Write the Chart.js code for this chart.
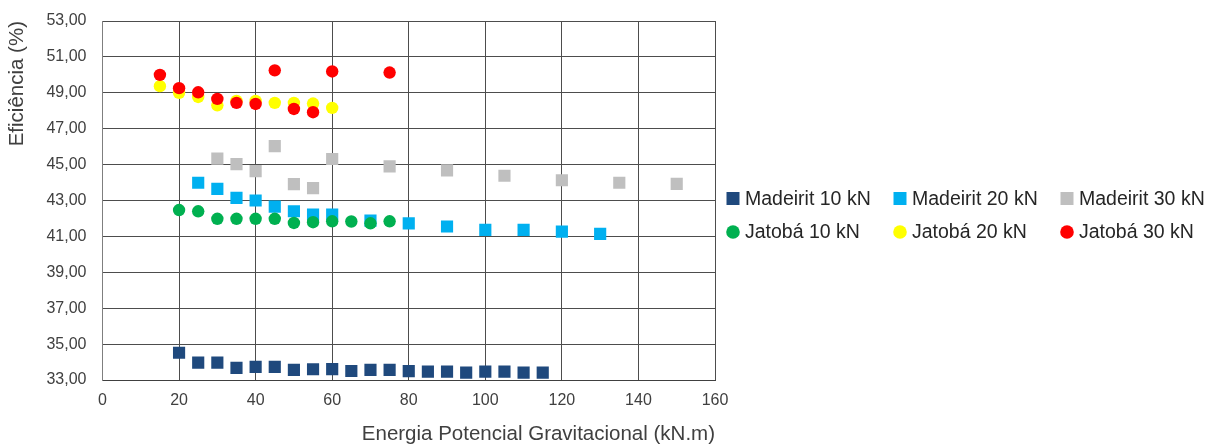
<!DOCTYPE html>
<html>
<head>
<meta charset="utf-8">
<script src="https://cdn.jsdelivr.net/npm/chart.js@4/dist/chart.umd.min.js"></script>
<style>
  html, body { margin: 0; padding: 0; background: #ffffff; }
  #wrap { position: relative; width: 1210px; height: 446px; }
</style>
</head>
<body>
<div id="wrap"><canvas id="c" width="1210" height="446"></canvas></div>
<script>
// Series labels
const seriesNames = ['Madeirit 10 kN', 'Madeirit 20 kN', 'Madeirit 30 kN',
                     'Jatobá 10 kN', 'Jatobá 20 kN', 'Jatobá 30 kN'];

// Energia potencial (kN.m) and eficiência (%) for each series
const madeirit10X = [20, 25, 30, 35, 40, 45, 50, 55, 60, 65, 70, 75, 80, 85, 90, 95, 100, 105, 110, 115];
const madeirit10Y = [34.52, 33.97, 33.97, 33.68, 33.73, 33.73, 33.56, 33.60, 33.61, 33.50,
                     33.56, 33.56, 33.49, 33.47, 33.47, 33.41, 33.47, 33.47, 33.41, 33.41];

const madeirit20X = [25, 30, 35, 40, 45, 50, 55, 60, 70, 80, 90, 100, 110, 120, 130];
const madeirit20Y = [43.99, 43.65, 43.15, 43.00, 42.66, 42.40, 42.22, 42.22, 41.88, 41.73,
                     41.55, 41.36, 41.36, 41.27, 41.14];

const madeirit30X = [30, 35, 40, 45, 50, 55, 60, 75, 90, 105, 120, 135, 150];
const madeirit30Y = [45.33, 45.03, 44.64, 46.03, 43.91, 43.69, 45.31, 44.90, 44.68, 44.38,
                     44.13, 43.99, 43.93];

const jatoba10X = [20, 25, 30, 35, 40, 45, 50, 55, 60, 65, 70, 75];
const jatoba10Y = [42.47, 42.40, 41.98, 41.98, 41.98, 41.98, 41.75, 41.79, 41.84, 41.83, 41.73, 41.84];

const jatoba20X = [15, 20, 25, 30, 35, 40, 45, 50, 55, 60];
const jatoba20Y = [49.37, 49.00, 48.77, 48.30, 48.55, 48.55, 48.44, 48.44, 48.40, 48.16];

const jatoba30X = [15, 20, 25, 30, 35, 40, 45, 50, 55, 60, 75];
const jatoba30Y = [50.00, 49.26, 49.03, 48.66, 48.44, 48.38, 50.25, 48.10, 47.92, 50.19, 50.13];

// Axis ticks
const xTicks = [0, 20, 40, 60, 80, 100, 120, 140, 160];
const yTicks = [33, 35, 37, 39, 41, 43, 45, 47, 49, 51, 53];

const FONT = "'Liberation Sans', Arial, sans-serif";

function pairs(xs, ys) {
  return xs.map((x, i) => ({ x: x, y: ys[i] }));
}

function series(i, xs, ys, color, style, radius, order) {
  return {
    label: seriesNames[i],
    data: pairs(xs, ys),
    pointStyle: style,
    pointRadius: radius,
    pointBackgroundColor: color,
    backgroundColor: color,
    pointBorderWidth: 0,
    borderWidth: 0,
    showLine: false,
    order: order
  };
}

// Legend laid out as a 2 x 3 grid to the right of the plot
const gridLegend = {
  id: 'gridLegend',
  afterDraw(chart, args, opts) {
    const ctx = chart.ctx;
    ctx.save();
    ctx.font = opts.font;
    ctx.textBaseline = 'middle';
    ctx.textAlign = 'left';
    chart.data.datasets.forEach((ds, i) => {
      const cx = opts.columns[i % 3];
      const cy = opts.rows[Math.floor(i / 3)];
      ctx.fillStyle = ds.backgroundColor;
      ctx.beginPath();
      if (ds.pointStyle === 'rect') {
        ctx.rect(cx - opts.box / 2, cy - opts.box / 2, opts.box, opts.box);
      } else {
        ctx.arc(cx, cy, opts.dot, 0, Math.PI * 2);
      }
      ctx.fill();
      ctx.fillStyle = opts.color;
      ctx.fillText(ds.label, cx + opts.gap, cy + 1);
    });
    ctx.restore();
  }
};

const chart = new Chart(document.getElementById('c'), {
  type: 'scatter',
  data: {
    datasets: [
      series(0, madeirit10X, madeirit10Y, '#1F497D', 'rect', 8.6, 6),
      series(1, madeirit20X, madeirit20Y, '#00B0F0', 'rect', 8.6, 5),
      series(2, madeirit30X, madeirit30Y, '#BFBFBF', 'rect', 8.6, 4),
      series(3, jatoba10X, jatoba10Y, '#00B050', 'circle', 6.2, 3),
      series(4, jatoba20X, jatoba20Y, '#FFFF00', 'circle', 6.2, 2),
      series(5, jatoba30X, jatoba30Y, '#FF0000', 'circle', 6.2, 1)
    ]
  },
  options: {
    responsive: false,
    animation: false,
    events: [],
    devicePixelRatio: 1,
    layout: { padding: { top: 21, right: 495, left: 0, bottom: 0 } },
    plugins: {
      legend: { display: false },
      tooltip: { enabled: false },
      gridLegend: {
        font: "19.5px " + FONT,
        color: '#262626',
        columns: [733, 900, 1067],
        rows: [198.5, 232],
        box: 13,
        dot: 6.8,
        gap: 12
      }
    },
    scales: {
      x: {
        type: 'linear',
        min: 0,
        max: 160,
        afterBuildTicks: (s) => { s.ticks = xTicks.map(v => ({ value: v })); },
        afterFit: (s) => { s.height = 66; },
        grid: { color: '#4d4d4d', lineWidth: 1, drawTicks: false },
        border: { color: '#404040', width: 1 },
        ticks: { color: '#404040', font: { family: FONT, size: 16 }, padding: 11 },
        title: {
          display: true,
          text: 'Energia Potencial Gravitacional (kN.m)',
          align: 'end',
          color: '#404040',
          font: { family: FONT, size: 20.5, lineHeight: 1.1 },
          padding: { top: 0, bottom: 0 }
        }
      },
      y: {
        type: 'linear',
        min: 33,
        max: 53,
        afterBuildTicks: (s) => { s.ticks = yTicks.map(v => ({ value: v })); },
        afterFit: (s) => {
          s.width = 102.5;
          // the top/bottom tick labels fit inside the layout padding
          s.paddingTop = 0;
          s.paddingBottom = 0;
        },
        grid: { color: '#4d4d4d', lineWidth: 1, drawTicks: false },
        border: { color: '#7f7f7f', width: 1 },
        ticks: {
          color: '#404040',
          font: { family: FONT, size: 16 },
          padding: 16,
          callback: (v) => v.toFixed(2).replace('.', ',')
        },
        title: {
          display: true,
          text: 'Eficiência (%)',
          align: 'end',
          color: '#404040',
          font: { family: FONT, size: 20.5, lineHeight: 1.1 },
          padding: { top: 6, bottom: 0 }
        }
      }
    }
  },
  plugins: [gridLegend]
});
</script>
</body>
</html>
